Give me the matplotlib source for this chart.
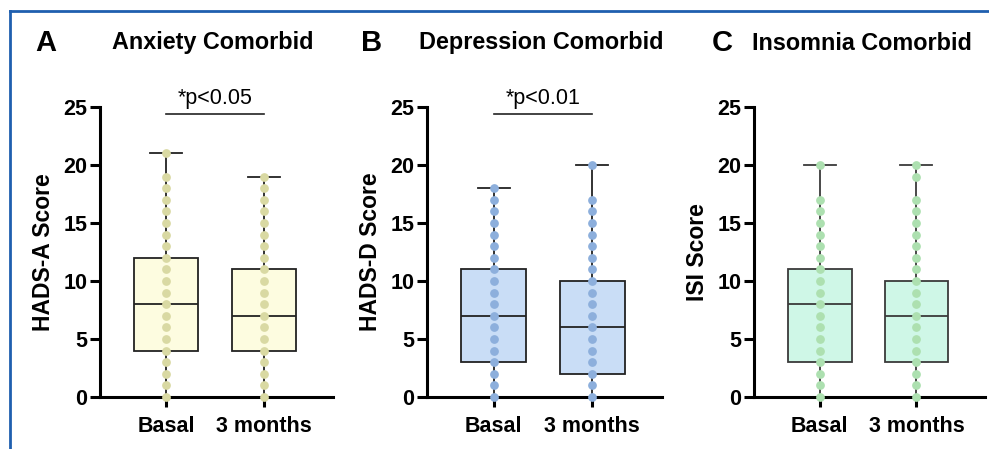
import matplotlib
matplotlib.use("Agg")
import matplotlib.pyplot as plt
from matplotlib.lines import Line2D

plt.rcParams['font.family'] = ['Liberation Sans', 'DejaVu Sans']

grupos = ['Basal', '3 months']

# valores distintos visiveis (pontos) em cada grupo
ansiedade_basal = [0, 1, 2, 3, 4, 5, 6, 7, 8, 9, 10, 11, 12, 13, 14, 15, 16, 17, 18, 19, 21]
ansiedade_3m = [0, 1, 2, 3, 4, 5, 6, 7, 8, 9, 10, 11, 12, 13, 14, 15, 16, 17, 18, 19]
depressao_basal = [0, 1, 2, 3, 4, 5, 6, 7, 8, 9, 10, 11, 12, 13, 14, 15, 16, 17, 18]
depressao_3m = [0, 1, 2, 3, 4, 5, 6, 7, 8, 9, 10, 11, 12, 13, 14, 15, 16, 17, 20]
insonia_basal = [0, 1, 2, 3, 4, 5, 6, 7, 8, 9, 10, 11, 12, 13, 14, 15, 16, 17, 20]
insonia_3m = [0, 1, 2, 3, 4, 5, 6, 7, 8, 9, 10, 11, 12, 13, 14, 15, 16, 17, 19, 20]

# resumo das caixas: (min, Q1, mediana, Q3, max)
caixas_ansiedade = [(0, 4, 8, 12, 21), (0, 4, 7, 11, 19)]
caixas_depressao = [(0, 3, 7, 11, 18), (0, 2, 6, 10, 20)]
caixas_insonia = [(0, 3, 8, 11, 20), (0, 3, 7, 10, 20)]

paineis = [
    dict(letra='A', titulo='Anxiety Comorbid', ylabel='HADS-A Score',
         pontos=[ansiedade_basal, ansiedade_3m], caixas=caixas_ansiedade,
         p='*p<0.05', fundo='#FDFCE0', cor_ponto='#D9D9A3', cor_linha='#222222',
         pos=[0.1011, 0.1158, 0.2356, 0.6459], letra_x=35, titulo_x=213),
    dict(letra='B', titulo='Depression Comorbid', ylabel='HADS-D Score',
         pontos=[depressao_basal, depressao_3m], caixas=caixas_depressao,
         p='*p<0.01', fundo='#C9DDF6', cor_ponto='#8DAFDC', cor_linha='#222222',
         pos=[0.4317, 0.1158, 0.2376, 0.6459], letra_x=361, titulo_x=541),
    dict(letra='C', titulo='Insomnia Comorbid', ylabel='ISI Score',
         pontos=[insonia_basal, insonia_3m], caixas=caixas_insonia,
         p=None, fundo='#CFF7E7', cor_ponto='#ADE0B0', cor_linha='#3A3A3A',
         pos=[0.7624, 0.1158, 0.2336, 0.6459], letra_x=712, titulo_x=862),
]

fig = plt.figure(figsize=(9.89, 4.49), dpi=100)

for pn in paineis:
    ax = fig.add_axes(pn['pos'])
    stats = []
    for nome, (mn, q1, med, q3, mx) in zip(grupos, pn['caixas']):
        stats.append(dict(label=nome, whislo=mn, q1=q1, med=med, q3=q3, whishi=mx, fliers=[]))
    ax.bxp(stats, positions=[0, 1], widths=0.66, patch_artist=True,
           boxprops=dict(facecolor=pn['fundo'], edgecolor=pn['cor_linha'], linewidth=1.3),
           medianprops=dict(color=pn['cor_linha'], linewidth=1.3),
           whiskerprops=dict(color=pn['cor_linha'], linewidth=1.3),
           capprops=dict(color=pn['cor_linha'], linewidth=1.3),
           capwidths=0.33, showfliers=False, zorder=2)
    for i, vals in enumerate(pn['pontos']):
        ax.plot([i] * len(vals), vals, 'o', color=pn['cor_ponto'], markersize=6.3,
                markeredgewidth=0, clip_on=False, zorder=4)

    ax.set_xlim(-0.68, 1.71)
    ax.set_ylim(0, 25)
    ax.set_yticks([0, 5, 10, 15, 20, 25])
    ax.set_xticks([0, 1])
    ax.set_xticklabels(grupos, fontsize=15.5, fontweight='bold')
    for lbl in ax.get_yticklabels():
        lbl.set_fontsize(15.5)
        lbl.set_fontweight('bold')
    ax.set_ylabel(pn['ylabel'], fontsize=16.5, fontweight='bold', labelpad=6)
    for s in ['top', 'right']:
        ax.spines[s].set_visible(False)
    for s in ['left', 'bottom']:
        ax.spines[s].set_linewidth(2.2)
    ax.tick_params(axis='both', width=2.2, length=7, pad=2)
    ax.tick_params(axis='x', pad=7)
    ax.set_facecolor('none')

    if pn['p']:
        ax.plot([0, 1], [24.4, 24.4], color='#222222', linewidth=1.2, clip_on=False)
        ax.text(0.5, 24.8, pn['p'], ha='center', va='bottom', fontsize=15.5, clip_on=False)

    # letra e titulo do painel
    fig.text(pn['letra_x'] / 989, 1 - 43 / 449, pn['letra'], fontsize=21,
             fontweight='bold', va='center', ha='left')
    fig.text(pn['titulo_x'] / 989, 1 - 43 / 449, pn['titulo'], fontsize=16.8,
             fontweight='bold', va='center', ha='center')

# moldura azul (topo e esquerda)
fig.add_artist(Line2D([10 / 989, 1.0], [1 - 11 / 449, 1 - 11 / 449], color='#1F5FAF', linewidth=2.0))
fig.add_artist(Line2D([10 / 989, 10 / 989], [0, 1 - 11 / 449], color='#1F5FAF', linewidth=2.0))

fig.savefig('out.png', dpi=100)
